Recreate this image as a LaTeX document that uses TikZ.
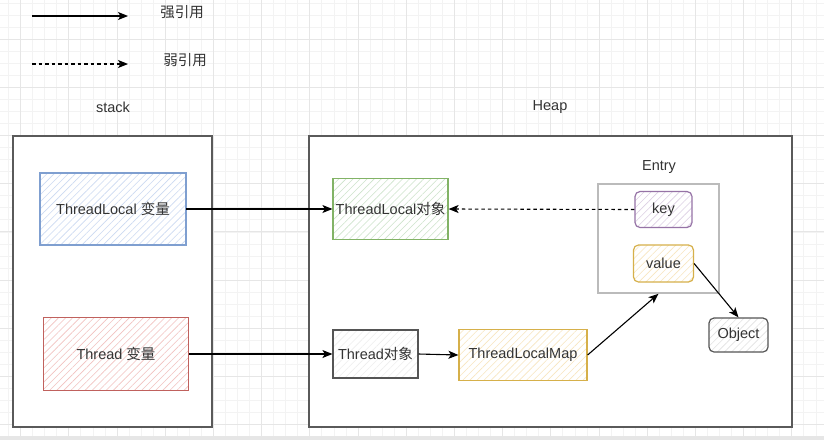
\documentclass[tikz,border=0pt]{standalone}
\usepackage{fontspec}
\setmainfont{Liberation Sans}
\newfontfamily\cjk{Noto Sans CJK SC}
\usetikzlibrary{arrows.meta,patterns.meta}
\definecolor{txt}{HTML}{333333}
\definecolor{gminor}{HTML}{F3F3F3}
\definecolor{gmajor}{HTML}{E6E6E6}
\definecolor{blueB}{HTML}{7F9FD0}
\definecolor{blueH}{HTML}{CCDAF2}
\definecolor{redB}{HTML}{C0615D}
\definecolor{redH}{HTML}{F2C2C0}
\definecolor{greenB}{HTML}{82B366}
\definecolor{greenH}{HTML}{CDE3CB}
\definecolor{yelB}{HTML}{D6B04A}
\definecolor{yelH}{HTML}{F8E6C0}
\definecolor{purB}{HTML}{9673A6}
\definecolor{purH}{HTML}{DCCFE3}
\definecolor{greyB}{HTML}{555555}
\definecolor{greyH}{HTML}{E2E2E2}
\definecolor{frame}{HTML}{5A5A5A}
\definecolor{entryB}{HTML}{BBBBBB}
\tikzset{
  lbl/.style={text=txt,font=\fontsize{14.5}{17}\selectfont,inner sep=0pt},
  hbox/.style n args={2}{draw=#1,line width=1.2pt,
     pattern={Lines[angle=45,distance=5pt,line width=0.6pt]},pattern color=#2,
     text=txt,font=\fontsize{14.5}{17}\selectfont,inner sep=0pt,align=center},
  conn/.style={line width=1.1pt,black,-{Stealth[length=10pt,width=8pt,inset=2.5pt]}},
  weak/.style={conn,dash pattern=on 3.5pt off 3pt},
  gridminor/.style={gminor,line width=0.6pt},
  gridmajor/.style={gmajor,line width=0.8pt}
}
\begin{document}
\begin{tikzpicture}[x=1pt,y=-1pt]
\useasboundingbox (0,0) rectangle (824,440);
\fill[white] (0,0) rectangle (824,440);
% grid
\foreach \i in {0,...,68} \draw[gridminor] ({8.45+12.05*\i},0) -- ++(0,440);
\foreach \i in {0,...,36} \draw[gridminor] (0,{2.85+12.05*\i}) -- ++(824,0);
\foreach \i in {0,...,17} \draw[gridmajor] ({20.5+48.2*\i},0) -- ++(0,440);
\foreach \i in {0,...,9} \draw[gridmajor] (0,{-9.2+48.2*\i}) -- ++(824,0);
\fill[gmajor] (0,436) rectangle (824,440);
% legend
\coordinate (s1) at (32,16); \coordinate (s2) at (128,16);
\coordinate (w1) at (32,64); \coordinate (w2) at (128,64);
\draw[conn] (s1) -- (s2);
\draw[weak] (w1) -- (w2);
\node[lbl] (strong) at (182,12) {\cjk 强引用};
\node[lbl] (weaklbl) at (185,60) {\cjk 弱引用};
% frames
\draw[frame,line width=1.5pt,fill=white] (13,136) rectangle (212,427);
\draw[frame,line width=1.5pt,fill=white] (309,136) rectangle (792,427);
\node[lbl] (stacklbl) at (113,107) {stack};
\node[lbl] (heaplbl) at (550,107) {Heap};
% entry container
\node[draw=entryB,line width=1.5pt,fill=white,minimum width=121pt,minimum height=109pt,inner sep=0pt] (entry) at (658.5,238.5) {};
\node[lbl] (entrylbl) at (659,167) {Entry};
% boxes
\node[hbox={blueB}{blueH},minimum width=146pt,minimum height=72pt] (tlv) at (113,209) {ThreadLocal {\cjk 变量}};
\node[hbox={redB}{redH},minimum width=145pt,minimum height=73pt] (thv) at (116,354) {Thread {\cjk 变量}};
\node[hbox={greenB}{greenH},minimum width=115pt,minimum height=61pt] (tlo) at (390.5,209) {ThreadLocal{\cjk 对象}};
\node[hbox={greyB}{greyH!60},minimum width=85pt,minimum height=48pt] (tho) at (375.5,354) {Thread{\cjk 对象}};
\node[hbox={yelB}{yelH},minimum width=128pt,minimum height=51pt] (tlm) at (523,355) {ThreadLocalMap};
\node[hbox={purB}{purH},rounded corners=5pt,minimum width=57pt,minimum height=36pt] (key) at (663.5,209.5) {key};
\node[hbox={yelB}{yelH},rounded corners=5pt,minimum width=60pt,minimum height=37pt] (value) at (663.5,263.5) {value};
\node[hbox={greyB}{greyH},rounded corners=5pt,minimum width=59pt,minimum height=34pt] (obj) at (738.5,335) {Object};
% connectors
\draw[conn] (tlv.east) -- (tlo.west);
\draw[conn] (thv.east) -- (tho.west);
\draw[conn] (tho.east) -- (tlm.west);
\draw[conn] (tlm.east) -- (entry.south);
\draw[conn] (value.east) -- (obj.north);
\draw[weak] (key.west) -- (tlo.east);
\end{tikzpicture}
\end{document}
